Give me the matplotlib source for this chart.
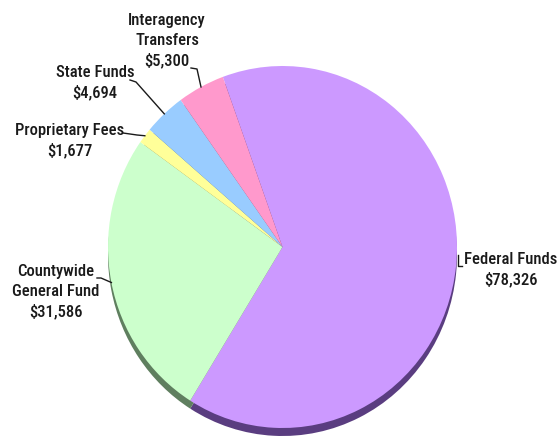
import numpy as np
import matplotlib.pyplot as plt

# Fund sources (thousands of dollars)
sources = ['Federal Funds', 'Countywide\nGeneral Fund', 'Proprietary Fees', 'State Funds', 'Interagency\nTransfers']
amounts = [78326, 31586, 1677, 4694, 5300]
colors = ['#cc99ff', '#ccffcc', '#ffff99', '#99ccff', '#ff99cc']
side_colors = ['#5a3d80', '#5f7f5f', '#80804c', '#4c6680', '#804c66']

W, H = 560, 438
cx, cy = 282.5, 247.0   # pie centre, pixels from top-left
rx, ry = 174.5, 181.0   # pie radii, pixels


def px(x, y):
    # pixel position -> data coordinates of the pie axes
    return (x - cx) / rx, (cy - y) / ry


fig = plt.figure(figsize=(W / 100, H / 100), dpi=100)
ax = fig.add_axes([0, 0, 1, 1])

# dark rim under the top face
depth = 8 / ry
ax.pie(amounts, colors=side_colors, startangle=110, counterclock=False,
       center=(0, -depth), radius=1, wedgeprops=dict(linewidth=0), frame=True)
wedges, _ = ax.pie(amounts, colors=colors, startangle=110, counterclock=False,
                   center=(0, 0), radius=1, wedgeprops=dict(linewidth=0), frame=True)
ax.set_aspect('auto')
ax.set_xlim(-cx / rx, (W - cx) / rx)
ax.set_ylim(-(H - cy) / ry, cy / ry)
ax.axis('off')

font = dict(family=['Roboto Condensed', 'Liberation Sans Narrow', 'DejaVu Sans'],
            fontstretch='condensed', fontsize=12, fontweight='medium',
            color='#1a1a1a', linespacing=1.38)

# label block centre and leader line elbow points (pixels)
labels = [
    dict(pos=(511, 270), path=None),
    dict(pos=(56, 292), path=[(97, 278), (101, 278)]),
    dict(pos=(70, 141), path=[(123, 133), (137, 135)]),
    dict(pos=(95, 83), path=[(130, 80), (136, 82)]),
    dict(pos=(167, 41), path=[(191, 68), (197, 69)]),
]

for w, name, amt, lab in zip(wedges, sources, amounts, labels):
    mid = np.deg2rad((w.theta1 + w.theta2) / 2)
    ex, ey = np.cos(mid), np.sin(mid)
    x, y = px(*lab['pos'])
    ax.text(x, y, f'{name}\n${amt:,}', ha='center', va='center', **font)
    if lab['path'] is not None:
        pts = [px(*p) for p in lab['path']] + [(ex, ey)]
    else:
        # small bracket next to the right edge
        bx = ex + 2 / rx
        pts = [(bx, ey + 11 / ry), (bx, ey), (bx + 4 / rx, ey)]
    ax.plot([p[0] for p in pts], [p[1] for p in pts], color='#1a1a1a', lw=1)

fig.savefig('out.png', dpi=100)
